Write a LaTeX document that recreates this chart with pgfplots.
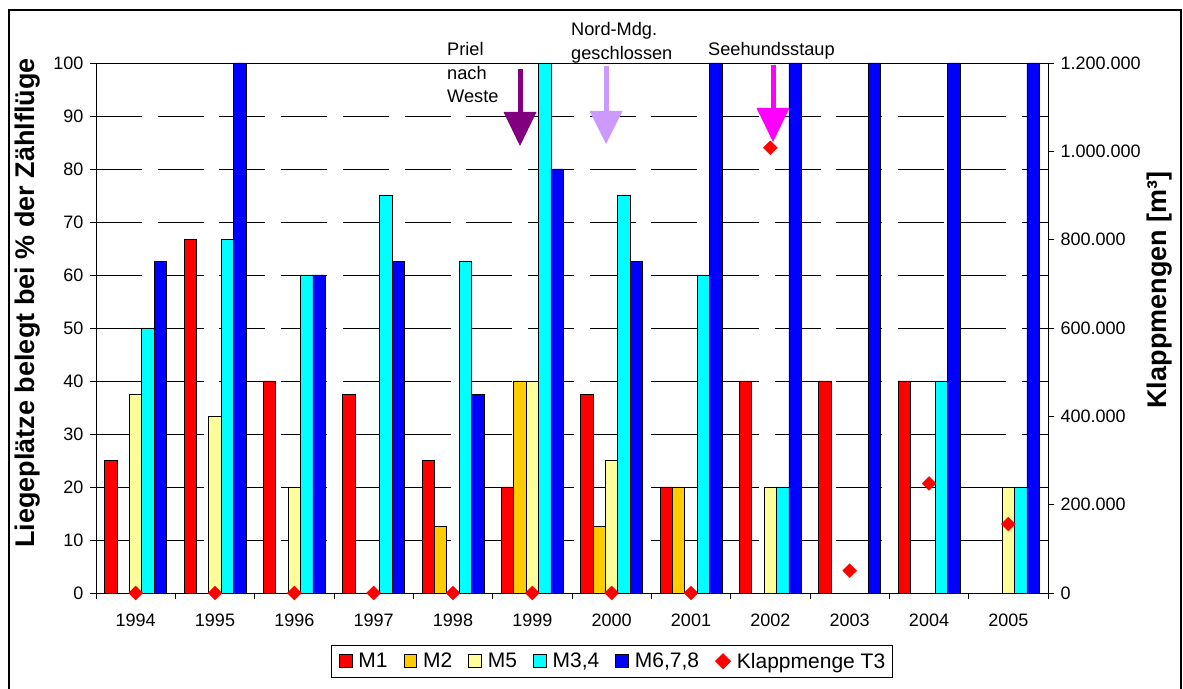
\documentclass[border=0pt]{standalone}
\usepackage{fontspec}
\setmainfont{Liberation Sans}
\usepackage{pgfplots}
\pgfplotsset{compat=1.18}
\definecolor{cMa}{HTML}{FF0000}
\definecolor{cMb}{HTML}{FFCC00}
\definecolor{cMc}{HTML}{FFFF99}
\definecolor{cMd}{HTML}{00FFFF}
\definecolor{cMe}{HTML}{0000FF}
\definecolor{cPur}{HTML}{800080}
\definecolor{cLav}{HTML}{CC99FF}
\definecolor{cMag}{HTML}{FF00FF}
\pgfplotsset{sq/.style={legend image code/.code={\draw[fill=#1,draw=black,line width=0.8bp] (0bp,-6.4bp) rectangle (12.8bp,6.4bp);}}}
\begin{document}
\begin{tikzpicture}[x=1bp,y=1bp]
\useasboundingbox (-96,-96) rectangle (1087,593);
\draw[line width=1.2bp] (-87,-100) -- (-87,583) -- (1085,583) -- (1085,-100);
\begin{axis}[at={(0,0)}, anchor=south west, scale only axis, width=952bp, height=530bp,
 xmin=-0.5, xmax=11.5, ymin=0, ymax=100,
 xtick={0,...,11}, xticklabels={1994,1995,1996,1997,1998,1999,2000,2001,2002,2003,2004,2005},
 minor xtick={-0.5,0.5,...,11.5},
 ytick={0,10,...,100},
 xtick pos=bottom, ytick pos=left,
 tick align=outside, major tick length=6bp, minor tick length=6bp,
 major x tick style={draw=none},
 every tick/.style={black, line width=0.8bp},
 ymajorgrids, major grid style={black, line width=0.8bp, dash pattern=on 46bp off 15.7bp},
 ybar=0pt, bar width=12.4bp,
 tick label style={font=\fontsize{18bp}{21bp}\selectfont},
 xticklabel style={yshift=-11bp},
 yticklabel style={xshift=-3bp},
 /pgf/number format/assume math mode=true,
 axis line style={line width=0.8bp},
]
\addplot[fill=cMa, draw=black, line width=0.8bp] coordinates {(0,25)(1,66.7)(2,40)(3,37.5)(4,25)(5,20)(6,37.5)(7,20)(8,40)(9,40)(10,40)};
\addplot[fill=cMb, draw=black, line width=0.8bp] coordinates {(4,12.5)(5,40)(6,12.5)(7,20)};
\addplot[fill=cMc, draw=black, line width=0.8bp] coordinates {(0,37.5)(1,33.3)(2,20)(5,40)(6,25)(8,20)(11,20)};
\addplot[fill=cMd, draw=black, line width=0.8bp] coordinates {(0,50)(1,66.7)(2,60)(3,75)(4,62.5)(5,100)(6,75)(7,60)(8,20)(10,40)(11,20)};
\addplot[fill=cMe, draw=black, line width=0.8bp] coordinates {(0,62.5)(1,100)(2,60)(3,62.5)(4,37.5)(5,80)(6,62.5)(7,100)(8,100)(9,100)(10,100)(11,100)};
\end{axis}
\begin{axis}[at={(0,0)}, anchor=south west, scale only axis, width=952bp, height=530bp,
 xmin=-0.5, xmax=11.5, ymin=0, ymax=1200000,
 axis x line=none, axis y line*=right,
 ytick={0,200000,400000,600000,800000,1000000,1200000}, scaled y ticks=false,
 /pgf/number format/fixed, /pgf/number format/1000 sep={.}, /pgf/number format/assume math mode=true,
 yticklabel style={font=\fontsize{18bp}{21bp}\selectfont, xshift=3bp},
 tick align=outside, major tick length=6bp,
 every tick/.style={black, line width=0.8bp},
 axis line style={line width=0.8bp},
 clip=false,
 legend style={at={(0.542,-0.098)}, anchor=north, legend columns=6,
   font=\fontsize{21bp}{24bp}\selectfont, draw=black, line width=0.8bp,
   nodes={inner sep=0pt},
   inner xsep=7bp, inner ysep=7.5bp,
   /tikz/every odd column/.append style={column sep=6bp},
   /tikz/every even column/.append style={column sep=16bp}},
]
\addlegendimage{sq=cMa}\addlegendentry{M1}
\addlegendimage{sq=cMb}\addlegendentry{M2}
\addlegendimage{sq=cMc}\addlegendentry{M5}
\addlegendimage{sq=cMd}\addlegendentry{M3,4}
\addlegendimage{sq=cMe}\addlegendentry{M6,7,8}
\addplot[only marks, mark=square*, mark options={rotate=45, draw=cMa, fill=cMa}, mark size=4.9bp,
  legend image code/.code={\fill[cMa] (0bp,0bp) -- (7.5bp,-7.5bp) -- (15bp,0bp) -- (7.5bp,7.5bp) -- cycle;}]
  coordinates {(0,0)(1,0)(2,0)(3,0)(4,0)(5,0)(6,0)(7,0)(8,1008000)(9,50500)(10,248000)(11,156000)};
\addlegendentry{Klappmenge T3}
\end{axis}
\node[rotate=90, font=\bfseries\fontsize{27bp}{31bp}\selectfont] at (-68,290) {Liegeplätze belegt bei \% der Zählflüge};
\node[rotate=90, font=\bfseries\fontsize{27bp}{31bp}\selectfont] at (1064,303) {Klappmengen [m³]};
% annotations
\fill[cPur] (421.5,524) rectangle (426.5,480);
\fill[cPur] (407.5,481) -- (440.5,481) -- (424,447) -- cycle;
\fill[cLav] (507.5,527) rectangle (512.5,481);
\fill[cLav] (493.5,482) -- (526.5,482) -- (510,449) -- cycle;
\fill[cMag] (674.5,528) rectangle (679.5,484);
\fill[cMag] (660.5,485) -- (693.5,485) -- (677,451) -- cycle;
\begin{scope}[every node/.style={anchor=base west, inner sep=0pt, font=\fontsize{18.2bp}{21bp}\selectfont}]
\node at (351,537) {Priel};
\node at (351,513.7) {nach};
\node at (351,490.3) {Weste};
\node at (475,557) {Nord-Mdg.};
\node at (475,533.7) {geschlossen};
\node at (612,537) {Seehundsstaup};
\end{scope}
\end{tikzpicture}
\end{document}
